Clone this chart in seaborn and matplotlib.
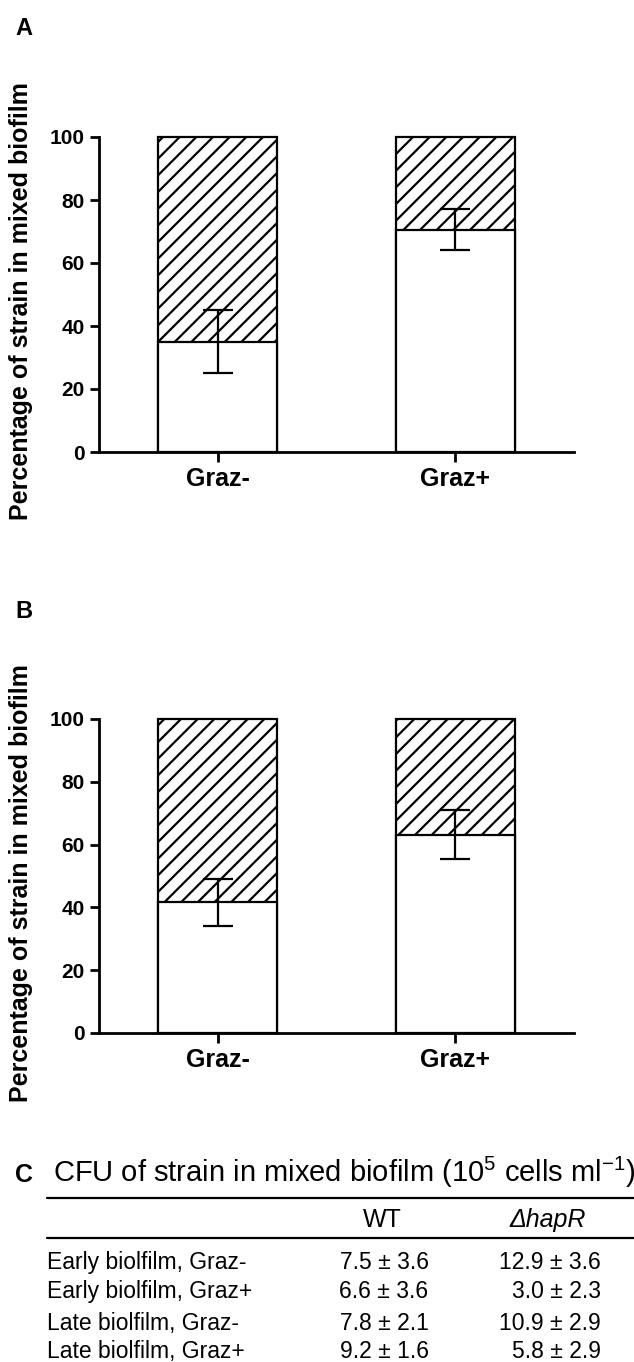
import matplotlib
matplotlib.use("Agg")
import matplotlib.pyplot as plt
import seaborn as sns
from matplotlib.lines import Line2D

sns.set_style("ticks")
plt.rcParams["font.family"] = ["Liberation Sans", "DejaVu Sans"]
plt.rcParams["mathtext.fontset"] = "custom"
plt.rcParams["mathtext.rm"] = "Liberation Sans"
plt.rcParams["mathtext.it"] = "Liberation Sans:italic"
plt.rcParams["hatch.linewidth"] = 1.6
plt.rcParams["hatch.color"] = "black"
for k in ("text.color", "axes.labelcolor", "xtick.color", "ytick.color", "axes.edgecolor"):
    plt.rcParams[k] = "black"

# ---- data ----
groups = ["Graz-", "Graz+"]
total = [100, 100]
wt_a = [35.0, 70.5]
sd_a = [10.0, 6.5]
wt_b = [41.6, 63.2]
sd_b = [7.6, 7.9]
yticks = [0, 20, 40, 60, 80, 100]
ylabel = "Percentage of strain in mixed biofilm"

row_labels = ["Early biolfilm, Graz-", "Early biolfilm, Graz+",
              "Late biolfilm, Graz-", "Late biolfilm, Graz+"]
wt_cfu = ["7.5 \u00b1 3.6", "6.6 \u00b1 3.6", "7.8 \u00b1 2.1", "9.2 \u00b1 1.6"]
hapr_cfu = ["12.9 \u00b1 3.6", "3.0 \u00b1 2.3", "10.9 \u00b1 2.9", "5.8 \u00b1 2.9"]

W, H = 634, 1362
fig = plt.figure(figsize=(W / 100, H / 100), dpi=100)


def panel(rect, wt, sd, letter, letter_y):
    ax = fig.add_axes(rect)
    sns.barplot(x=groups, y=total, color="white", saturation=1, edgecolor="black",
                linewidth=1.6, hatch="//", width=0.5, ax=ax, zorder=2)
    sns.barplot(x=groups, y=wt, color="white", saturation=1, edgecolor="black",
                linewidth=1.6, width=0.5, ax=ax, zorder=3)
    ax.errorbar(x=[0, 1], y=wt, yerr=sd, fmt="none", ecolor="black",
                elinewidth=1.6, capsize=11, capthick=1.6, zorder=4)
    for p in ax.patches:
        p.set_clip_on(False)
    ax.set_xlim(-0.5, 1.5)
    ax.set_ylim(0, 100)
    ax.set_yticks(yticks)
    ax.set_yticklabels([str(t) for t in yticks], fontsize=15, fontweight="bold")
    ax.set_xticks([0, 1])
    ax.set_xticklabels(groups, fontsize=18, fontweight="bold")
    ax.set_xlabel("")
    ax.set_ylabel(ylabel, fontsize=18, fontweight="bold")
    ax.yaxis.set_label_coords(-0.139, 0.478)
    sns.despine(ax=ax)
    for s in ("left", "bottom"):
        ax.spines[s].set_linewidth(2)
    ax.tick_params(axis="y", length=6.5, width=2, pad=4)
    ax.tick_params(axis="x", length=7.5, width=2, pad=3)
    fig.text(15 / W, 1 - letter_y / H, letter, fontsize=17, fontweight="bold",
             va="baseline", ha="left")
    return ax


panel([99 / W, 1 - 452 / H, 475 / W, 315 / H], wt_a, sd_a, "A", 35)
panel([99 / W, 1 - 1033 / H, 475 / W, 314 / H], wt_b, sd_b, "B", 618)

# ---- panel C: table ----
fig.text(15 / W, 1 - 1182 / H, "C", fontsize=18, fontweight="bold", va="baseline")
fig.text(53 / W, 1 - 1182 / H,
         r"CFU of strain in mixed biofilm (10$^{5}$ cells ml$^{\mathregular{-1}}$)",
         fontsize=21, va="baseline")
for yl in (1198, 1238):
    fig.add_artist(Line2D([47 / W, 1.0], [1 - yl / H, 1 - yl / H],
                          color="black", lw=1.6, transform=fig.transFigure))
fig.text(382 / W, 1 - 1227 / H, "WT", fontsize=18, ha="center", va="baseline")
fig.text(548 / W, 1 - 1227 / H, "\u0394hapR", fontsize=18, style="italic",
         ha="center", va="baseline")
row_y = [1269, 1298, 1330, 1358]
for lab, a, b, yy in zip(row_labels, wt_cfu, hapr_cfu, row_y):
    fig.text(47 / W, 1 - yy / H, lab, fontsize=16.5, va="baseline")
    fig.text(384 / W, 1 - yy / H, a, fontsize=16.5, ha="center", va="baseline")
    fig.text(601 / W, 1 - yy / H, b, fontsize=16.5, ha="right", va="baseline")

fig.savefig("out.png", dpi=100)
